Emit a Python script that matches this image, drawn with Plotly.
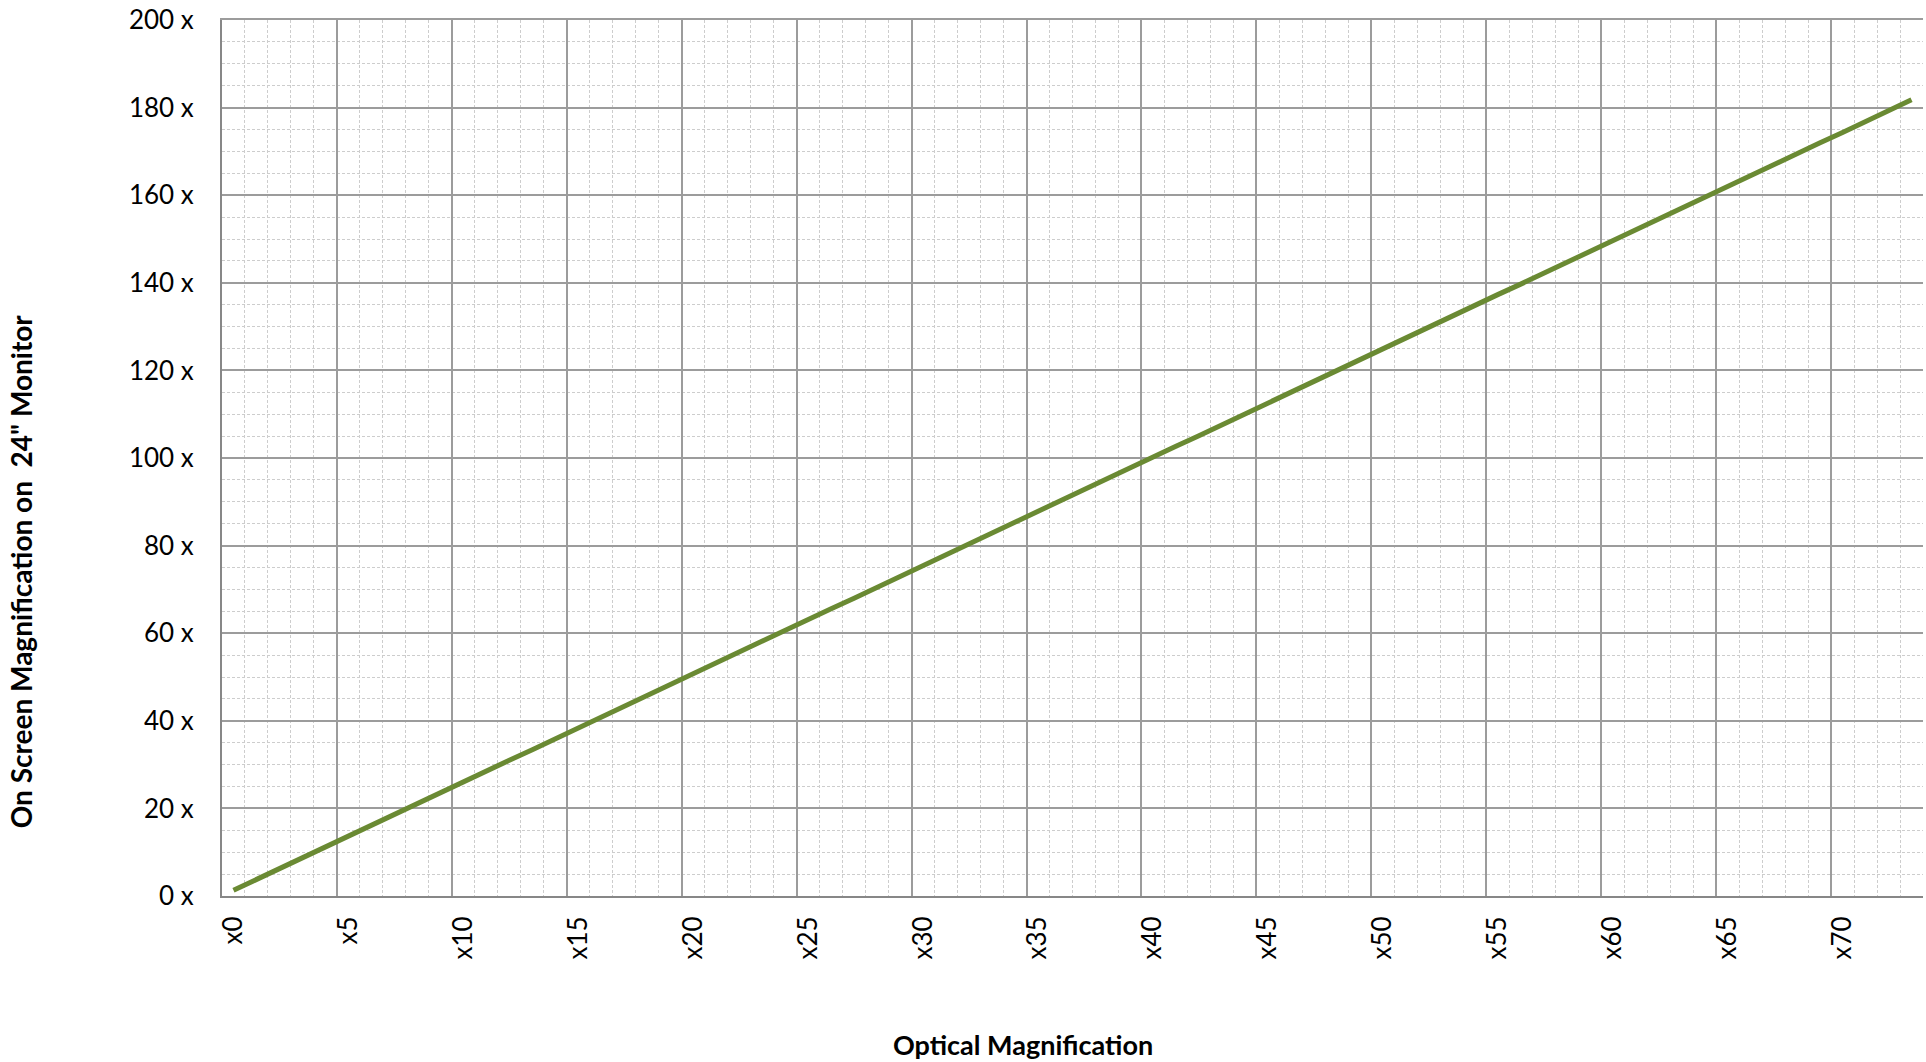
import plotly.graph_objects as go

# Data (categories x0..x73)
categories = [f"x{i}" for i in range(74)]
cat_index = list(range(74))
on_screen = [1.3, 3.8, 6.2, 8.7, 11.2, 13.7, 16.1, 18.6, 21.1, 23.5,
             26.0, 28.5, 31.0, 33.4, 35.9, 38.4, 40.9, 43.3, 45.8, 48.3,
             50.7, 53.2, 55.7, 58.2, 60.6, 63.1, 65.6, 68.0, 70.5, 73.0,
             75.5, 77.9, 80.4, 82.9, 85.3, 87.8, 90.3, 92.8, 95.2, 97.7,
             100.2, 102.7, 105.1, 107.6, 110.1, 112.5, 115.0, 117.5, 120.0, 122.4,
             124.9, 127.4, 129.8, 132.3, 134.8, 137.3, 139.7, 142.2, 144.7, 147.1,
             149.6, 152.1, 154.6, 157.0, 159.5, 162.0, 164.5, 166.9, 169.4, 171.9,
             174.3, 176.8, 179.3, 181.8]
tick_positions = list(range(0, 74, 5))
tick_labels = [categories[i] for i in tick_positions]

FONT = "Lato"
MAJOR = "#9c9c9c"
MINOR = "#cdcdcd"
AXIS = "#878787"

fig = go.Figure()
# visible series on the main (label) axis
fig.add_trace(go.Scatter(
    x=cat_index, y=on_screen, mode="lines",
    line=dict(color="#6a8a33", width=5),
    xaxis="x", yaxis="y", showlegend=False, hoverinfo="x+y",
))
# transparent copy so the overlay grid axis exists
fig.add_trace(go.Scatter(
    x=cat_index, y=on_screen, mode="lines",
    line=dict(color="rgba(0,0,0,0)", width=0),
    xaxis="x2", yaxis="y", showlegend=False, hoverinfo="skip",
))

xr = [-0.5, len(categories) - 0.5]
fig.update_layout(
    width=1926, height=1062,
    margin=dict(l=222, r=3, t=17, b=166),
    paper_bgcolor="white", plot_bgcolor="white",
    font=dict(family=FONT, color="black"),
    xaxis=dict(
        range=xr, zeroline=False, showgrid=False,
        tickmode="array", tickvals=tick_positions, ticktext=tick_labels,
        tickangle=-90, ticks="", ticklabelstandoff=8,
        tickfont=dict(family=FONT, size=26, color="black"),
        showline=True, linecolor=AXIS, linewidth=2,
        minor=dict(tick0=-0.5, dtick=1, showgrid=True, gridcolor=MINOR,
                   griddash="3px,2px", gridwidth=1),
    ),
    xaxis2=dict(
        range=xr, overlaying="x", side="top", showticklabels=False, ticks="",
        zeroline=False, showgrid=True, tick0=-0.5, dtick=5,
        gridcolor=MAJOR, gridwidth=1.5,
        showline=True, linecolor=MAJOR, linewidth=1.5,
    ),
    yaxis=dict(
        range=[0, 200], dtick=20, ticksuffix=" x", ticks="", zeroline=False,
        showgrid=True, gridcolor=MAJOR, gridwidth=1.5,
        minor=dict(dtick=5, showgrid=True, gridcolor=MINOR,
                   griddash="3px,2px", gridwidth=1),
        showline=True, linecolor=AXIS, linewidth=2,
        ticklabelstandoff=21,
        tickfont=dict(family=FONT, size=26, color="black"),
    ),
    annotations=[
        dict(text="<b>Optical Magnification</b>", xref="paper", yref="paper",
             x=0.471, y=-0.169, showarrow=False, xanchor="center", yanchor="middle",
             font=dict(family=FONT, size=27, color="black")),
        dict(text="<b>On Screen Magnification on  24\" Monitor</b>", xref="paper", yref="paper",
             x=-0.118, y=0.371, showarrow=False, textangle=-90,
             xanchor="center", yanchor="middle",
             font=dict(family=FONT, size=28, color="black")),
    ],
)

fig.write_html("out.html", config={"displayModeBar": False},
               post_script="document.body.style.margin='0px';")
